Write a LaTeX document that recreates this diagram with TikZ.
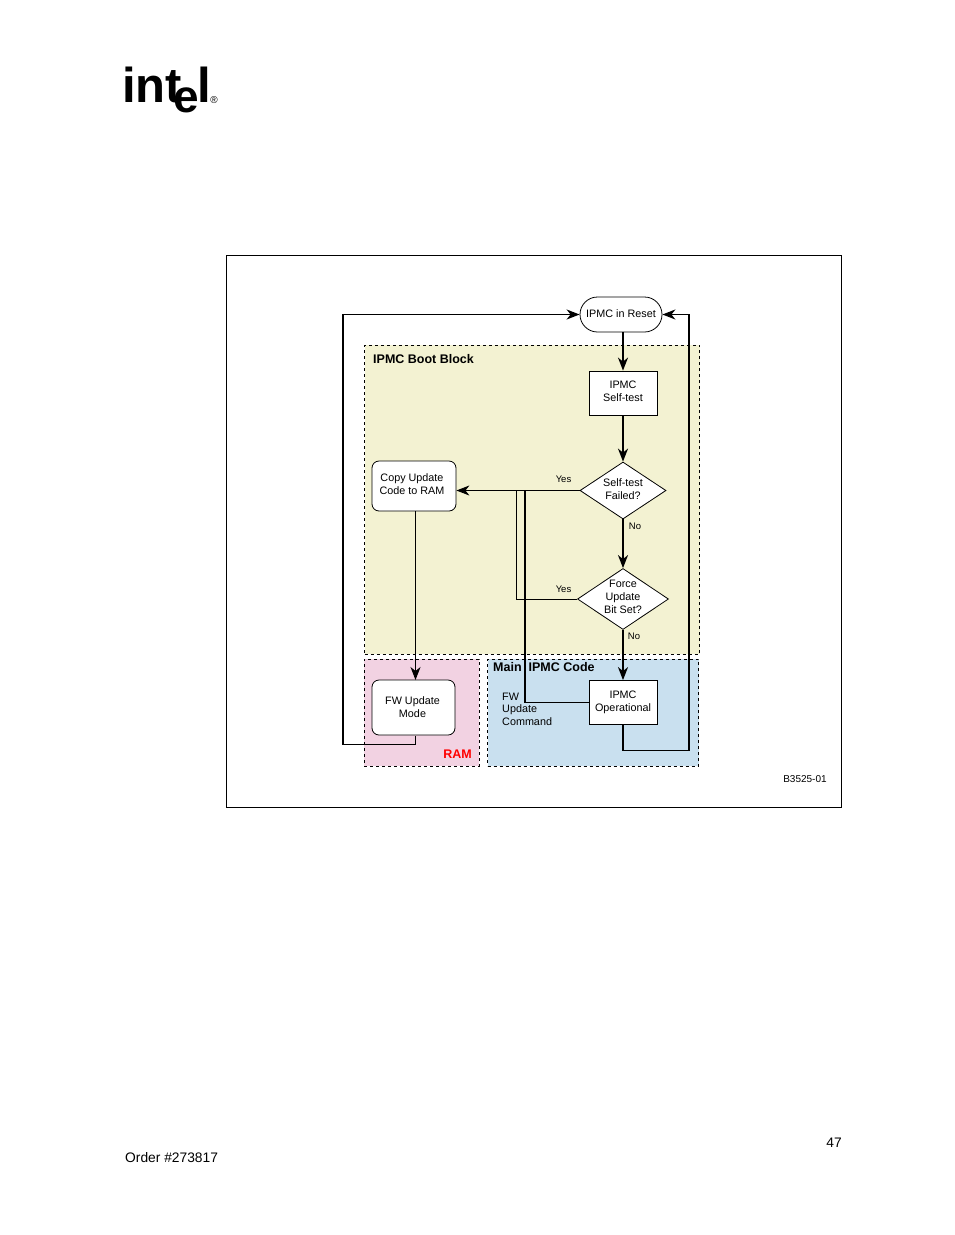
\documentclass[tikz,border=0pt]{standalone}
\usepackage{fontspec}
\setmainfont{Liberation Sans}
\usetikzlibrary{arrows.meta,shapes.geometric,shapes.misc}
\definecolor{bootyellow}{HTML}{F3F2D2}
\definecolor{ramrose}{HTML}{F2D2E2}
\definecolor{mainblue}{HTML}{C9E0EF}
\begin{document}
\begin{tikzpicture}[x=1pt,y=-1pt,>={Stealth[length=13pt,width=10pt,inset=4pt]},
box node/.style={rectangle,draw,fill=white,line width=.8pt,minimum width=68pt,minimum height=44pt,inner sep=0pt,align=center,font=\fontsize{10.8}{13}\selectfont},
round node/.style={box node,rounded corners=7pt,minimum width=84pt},
test node/.style={box node,diamond,aspect=1.5,minimum width=0pt,minimum height=0pt},
area node/.style={draw,dashed,dash pattern=on 3pt off 3pt,line width=.9pt,minimum width=0pt},
area title/.style={inner sep=0pt,font=\fontsize{12.5}{15}\bfseries\selectfont},
small label/.style={inner sep=0pt,font=\fontsize{9.5}{12}\selectfont},
heavy line/.style={line width=1.7pt},
thin line/.style={line width=1pt}]
\useasboundingbox (0,0) rectangle (954,1235);
% logo
\begin{scope}[every node/.style={inner sep=0pt,anchor=base west,font=\fontsize{49}{49}\bfseries\selectfont}]
\node (logoint) at (122,102) {int};
\node[font=\fontsize{46}{46}\bfseries\selectfont] (logoe) at (173,112) {e};
\node (logol) at (197,102) {l};
\end{scope}
\node[inner sep=0pt,font=\fontsize{10}{10}\selectfont] (logor) at (214,100) {®};
% frame and areas
\node[draw,line width=.7pt,minimum width=615.5pt,minimum height=552pt,inner sep=0pt] (frame) at (533.75,531) {};
\node[area node,fill=bootyellow,minimum width=335pt,minimum height=309pt,inner sep=0pt] (bootarea) at (532,499.5) {};
\node[area node,fill=ramrose,minimum width=115pt,minimum height=107pt,inner sep=0pt] (ramarea) at (421.5,712.5) {};
\node[area node,fill=mainblue,minimum width=211pt,minimum height=107pt,inner sep=0pt] (mainarea) at (593,712.5) {};
\node[area title,anchor=west] (boottitle) at (373,359) {IPMC Boot Block};
\node[area title,anchor=west] (maintitle) at (493,667) {Main\ \ IPMC Code};
\node[area title,text=red,anchor=east] (ramtitle) at (472,754) {RAM};
% steps
\node[box node,rounded rectangle,minimum width=82pt,minimum height=35pt,text depth=2pt] (reset) at (621,314.5) {IPMC in Reset};
\node[box node,text depth=3pt] (selftest) at (623,393) {IPMC\\Self-test};
\node[test node,minimum width=86pt,minimum height=57pt,text depth=2pt] (failed) at (623,490.5) {Self-test\\Failed?};
\node[test node,inner sep=-5pt,minimum width=91pt,minimum height=61pt,text depth=4pt] (force) at (623,599) {Force\\Update\\Bit Set?};
\node[box node] (operational) at (623,702.5) {IPMC\\Operational};
\node[round node,minimum height=50pt,text depth=4pt] (copy) at (414,486) {Copy Update\hspace*{4pt}\\Code to RAM\hspace*{4pt}};
\node[round node,minimum height=55pt,minimum width=83pt] (fwmode) at (413.5,707.5) {FW Update\hspace*{2pt}\\Mode\hspace*{2pt}};
% bend points
\coordinate (forcebend) at (516,599);
\coordinate (forcejoin) at (516,490.5);
\coordinate (cmdbend) at (525,702.5);
\coordinate (cmdjoin) at (525,490.5);
\coordinate (copyout) at (415.5,511);
\coordinate (fwin) at (415.5,680);
\coordinate (fwout) at (415.5,735.5);
\coordinate (fwbend) at (415.5,744.5);
\coordinate (leftbend) at (343,744.5);
\coordinate (leftup) at (343,314.5);
\coordinate (opout) at (623,724.5);
\coordinate (opbend) at (623,750.5);
\coordinate (rightbend) at (689,750.5);
\coordinate (rightup) at (689,314.5);
\begin{scope}
\draw[heavy line,->] (reset.south -| selftest) -- (selftest);
\draw[heavy line,->] (selftest) -- (failed);
\draw[heavy line,->] (failed) -- (force);
\draw[heavy line,->] (force) -- (operational);
\draw[thin line,->] (failed.west) -- (copy.east |- failed);
\draw[thin line] (force.west) -- (forcebend) -- (forcejoin);
\draw[thin line] (operational.west) -- (cmdbend);
\draw[heavy line] (cmdbend) -- (cmdjoin);
\draw[thin line,->] (copyout) -- (fwin);
\draw[heavy line] (fwout) -- (fwbend);
\draw[heavy line,->] (fwbend) -- (leftbend) -- (leftup) -- (reset.west);
\draw[heavy line,->] (opout) -- (opbend) -- (rightbend) -- (rightup) -- (reset.east);
\end{scope}
% labels
\node[small label] (yesfailed) at (563.5,479) {Yes};
\node[small label] (nofailed) at (635,526.5) {No};
\node[small label] (yesforce) at (563.5,589) {Yes};
\node[small label] (noforce) at (634,636.5) {No};
\node[inner sep=0pt,anchor=north west,align=left,font=\fontsize{10.8}{12.8}\selectfont] (cmdlabel) at (502,692.5) {FW\\Update\\Command};
\node[small label,font=\fontsize{10}{12}\selectfont] (figid) at (805,779.5) {B3525-01};
\node[inner sep=0pt,anchor=east,font=\fontsize{13.8}{16}\selectfont] (pagenum) at (842,1142.5) {47};
\node[inner sep=0pt,anchor=west,font=\fontsize{13.8}{16}\selectfont] (order) at (125,1157.5) {Order \#273817};
\end{tikzpicture}
\end{document}
